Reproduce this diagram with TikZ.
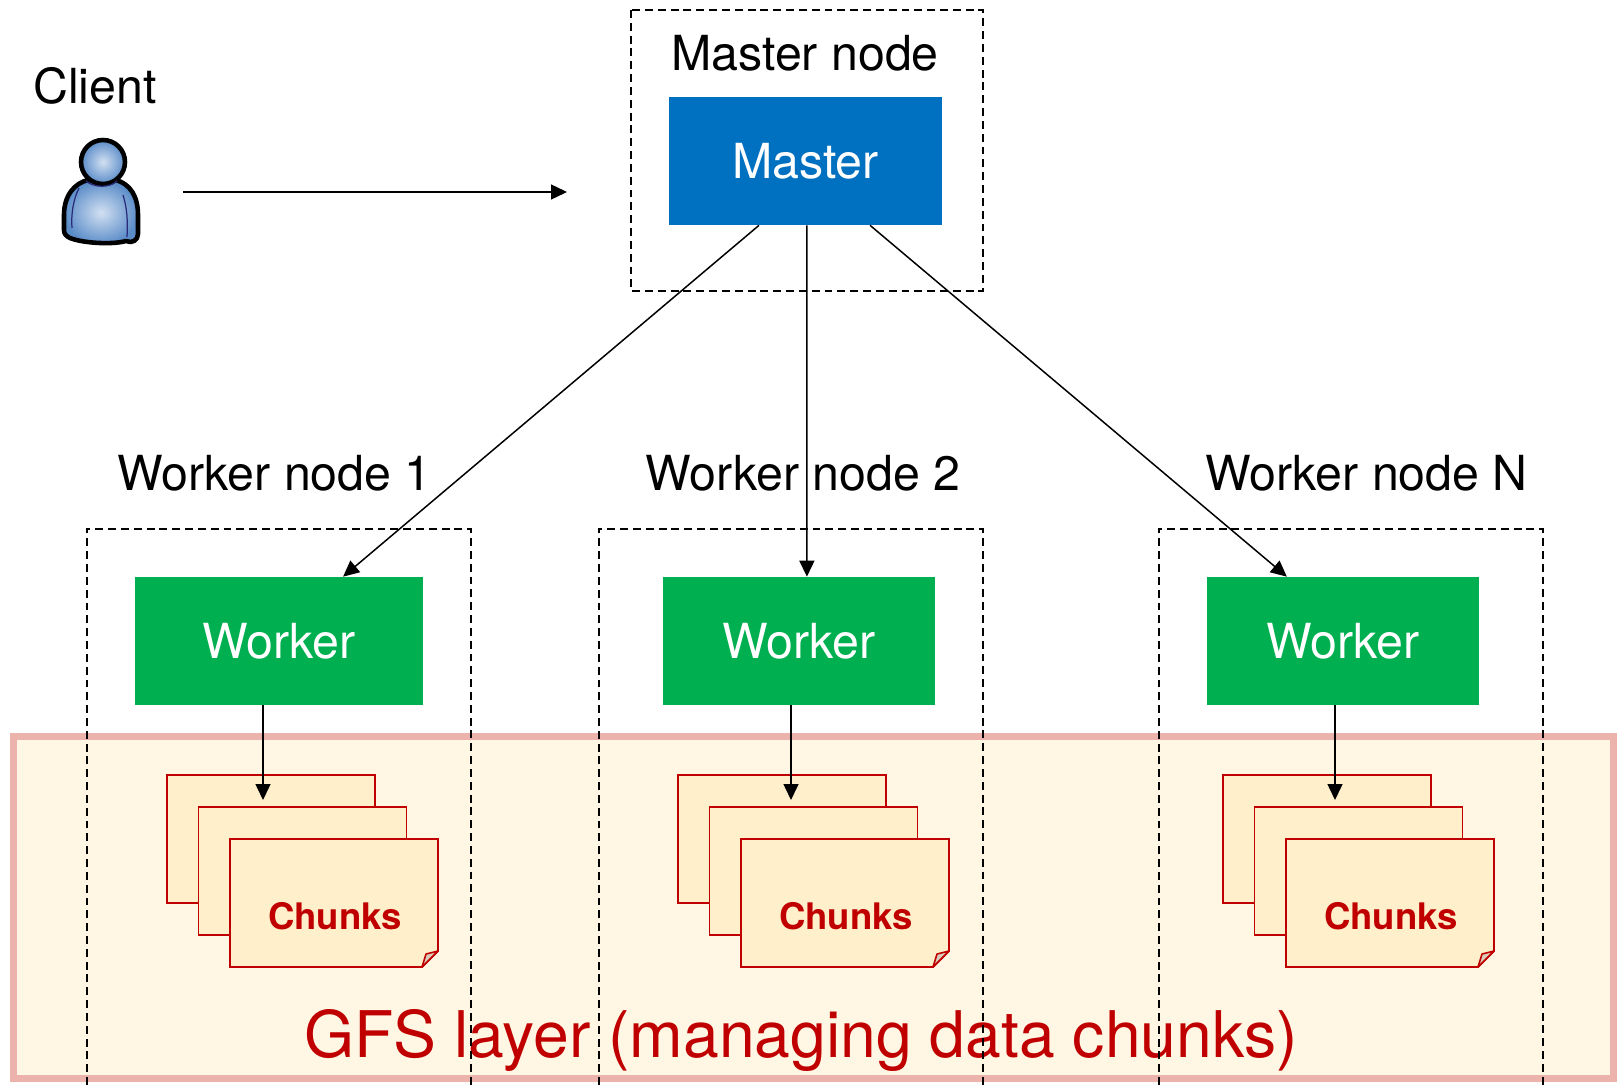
\documentclass[tikz,border=0pt]{standalone}
\usepackage{fontspec}
\setmainfont{TeX Gyre Heros}
\usetikzlibrary{arrows.meta,calc}

\definecolor{masterblue}{HTML}{0070C0}
\definecolor{workergreen}{HTML}{00B050}
\definecolor{chunkred}{HTML}{C00000}
\definecolor{chunkfill}{HTML}{FFF0CB}
\definecolor{gfsfill}{HTML}{FFF7E4}
\definecolor{gfsborder}{HTML}{EBB3AC}
\definecolor{foldgrey}{HTML}{D8CDBA}
\definecolor{personblue}{HTML}{5A8CC8}
\definecolor{personlight}{HTML}{D2E0F2}
\definecolor{persondark}{HTML}{2A2A78}

\tikzset{
  box/.style={inner sep=0pt, text=white, font=\fontsize{27.5}{31}\selectfont},
  masterbox/.style={box, fill=masterblue, minimum width=5.46cm, minimum height=2.56cm},
  workerbox/.style={box, fill=workergreen, minimum height=2.56cm},
  nodeframe/.style={draw, line width=0.8pt, dash pattern=on 4.5pt off 2.8pt},
  title/.style={font=\fontsize{27.5}{31}\selectfont, anchor=base, inner sep=0pt},
  arr/.style={line width=0.85pt, -{Triangle[length=0.32cm,width=0.3cm]}},
  sheet/.style={draw=chunkred, fill=chunkfill, line width=1.1pt, inner sep=0pt,
    minimum width=4.16cm, minimum height=2.56cm},
  chunktext/.style={text=chunkred, font=\fontsize{20.8}{24}\selectfont\bfseries, anchor=base, inner sep=0pt},
  personline/.style={draw=black, line width=2.6pt, line join=round},
  personseam/.style={draw=persondark, line width=0.7pt},
}

\begin{document}
\begin{tikzpicture}[x=0.02cm,y=-0.02cm]
  \useasboundingbox (0,0) rectangle (1617,1085);

  % GFS layer in the back
  \draw[draw=gfsborder, fill=gfsfill, line width=0.14cm] (13.5,736.5) rectangle (1613.5,1078.5);
  \node[text=chunkred, font=\fontsize{36.6}{40}\selectfont, anchor=base, inner sep=0pt] (gfslabel) at (801,1057) {GFS layer (managing data chunks)};

  % dashed frames
  \draw[nodeframe] (631,10) rectangle (983,291);
  \draw[nodeframe] (87,1085) |- (471,529) -- (471,1085);
  \draw[nodeframe] (599,1085) |- (983,529) -- (983,1085);
  \draw[nodeframe] (1159,1085) |- (1543,529) -- (1543,1085);

  % client
  \node[title, anchor=base west] (clientlabel) at (33,103) {Client};
  \path[personline, inner color=personlight, outer color=personblue]
    (64,230) -- (64,215) .. controls (64,195) and (75,183) .. (88,180) -- (116,180)
    .. controls (130,184) and (138,196) .. (138,215) -- (138,234)
    .. controls (138,240) and (132,244) .. (126,241)
    .. controls (112,245) and (82,243) .. (70,238)
    .. controls (66,236) and (64,234) .. (64,230) -- cycle;
  \draw[personseam] (79,188) .. controls (73,200) and (71,215) .. (72,228);
  \draw[personseam] (123,195) .. controls (127,207) and (128,222) .. (127,237);
  \path[personline, inner color=personlight, outer color=personblue] (103,162) circle [radius=0.44cm];
  \draw[personseam] (86,181) .. controls (94,188) and (110,188) .. (117,181);
  \coordinate (clientout) at (183,192);
  \coordinate (masterin) at (567,192);
  \draw[arr] (clientout) -- (masterin);

  % master
  \node[title] (masterlabel) at (805,71) {Master node};
  \node[masterbox] (master) at (805.5,161) {Master};

  % workers
  \node[title] (w1label) at (274.5,490) {Worker node 1};
  \node[title] (w2label) at (803,490) {Worker node 2};
  \node[title] (wNlabel) at (1366.5,490) {Worker node N};
  \node[workerbox, minimum width=5.76cm] (w1) at (279,641) {Worker};
  \node[workerbox, minimum width=5.44cm] (w2) at (799,641) {Worker};
  \node[workerbox, minimum width=5.44cm] (wN) at (1343,641) {Worker};

  \draw[arr] ($(master.south west)!0.33!(master.south east)$) -- ($(w1.north west)!0.722!(w1.north east)$);
  \draw[arr] ($(master.south west)!0.505!(master.south east)$) -- ($(w2.north west)!0.529!(w2.north east)$);
  \draw[arr] ($(master.south west)!0.736!(master.south east)$) -- ($(wN.north west)!0.294!(wN.north east)$);

  % chunk stacks
  \foreach \n/\x/\d in {1/167/96, 2/678/113, 3/1223/112}{
    \node[sheet] (c\n a) at (\x+104,839) {};
    \coordinate (c\n in) at (\x+\d,800);
    \node[sheet] (c\n b) at (\x+135.5,871) {};
    \draw[draw=chunkred, fill=chunkfill, line width=1.1pt]
      (\x+63,839) -- (\x+271,839) -- (\x+271,951) -- (\x+255,967) -- (\x+63,967) -- cycle;
    \draw[draw=chunkred, fill=foldgrey, line width=0.9pt, line join=round]
      (\x+271,951) -- (\x+255,967) -- (\x+259,954) -- cycle;
    \node[chunktext] (c\n) at (\x+168,929) {Chunks};
  }

  \draw[arr] (w1.south -| c1in) -- (c1in);
  \draw[arr] (w2.south -| c2in) -- (c2in);
  \draw[arr] (wN.south -| c3in) -- (c3in);
\end{tikzpicture}
\end{document}
